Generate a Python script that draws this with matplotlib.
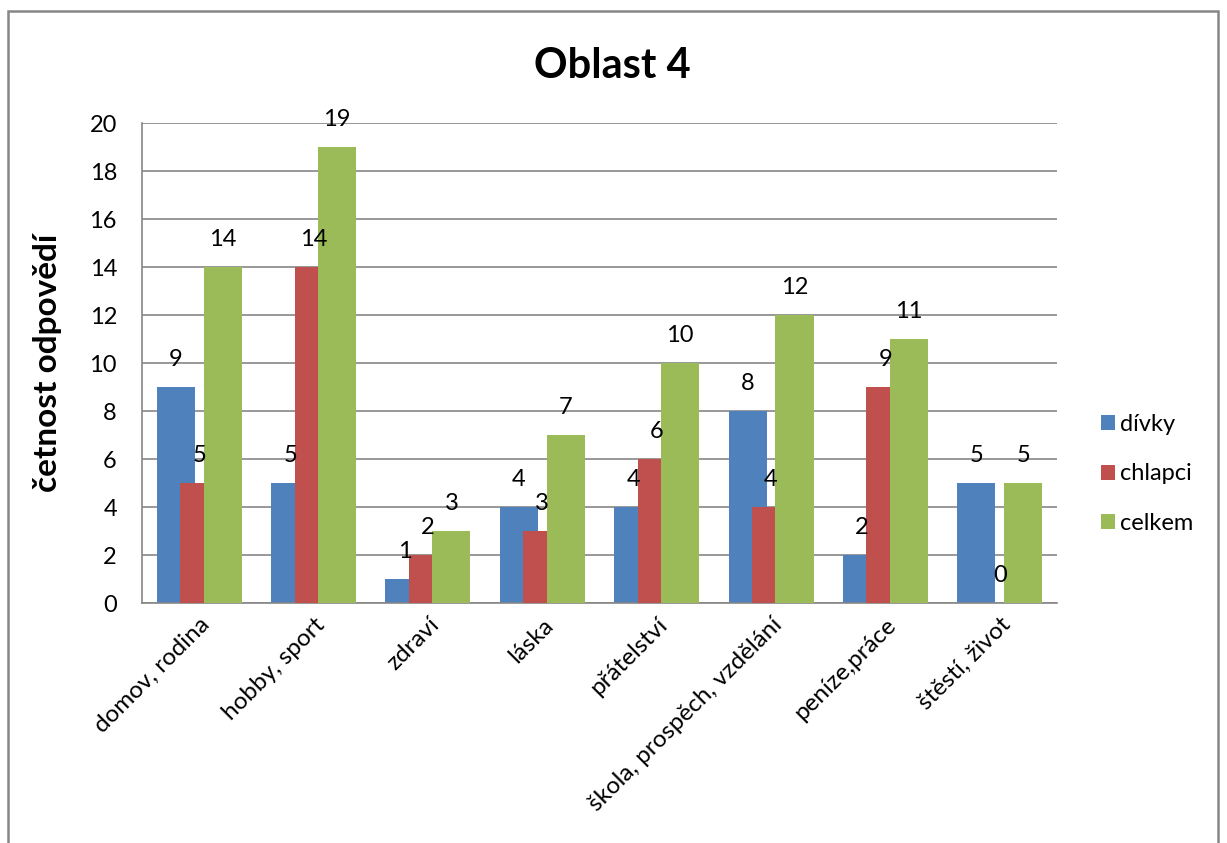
import matplotlib
matplotlib.use("Agg")
import matplotlib.pyplot as plt
import numpy as np
from matplotlib.patches import Rectangle

plt.rcParams['font.family'] = ['Lato', 'DejaVu Sans']

categories = ["domov, rodina", "hobby, sport", "zdraví", "láska", "přátelství",
              "škola, prospěch, vzdělání", "peníze,práce", "štěstí, život"]
divky = [9, 5, 1, 4, 4, 8, 2, 5]
chlapci = [5, 14, 2, 3, 6, 4, 9, 0]
celkem = [14, 19, 3, 7, 10, 12, 11, 5]
series_names = ["dívky", "chlapci", "celkem"]
colors = ["#4F81BD", "#C0504D", "#9BBB59"]
yticks = list(range(0, 21, 2))

W, H = 1227, 843
fig = plt.figure(figsize=(W / 100, H / 100), dpi=100)
ax = fig.add_axes([142 / W, 1 - 603 / H, (1057 - 142) / W, (603 - 123) / H])

x = np.arange(len(categories))
step = 0.205
width = 0.333
for i, (vals, name, c) in enumerate(zip([divky, chlapci, celkem], series_names, colors)):
    pos = x + (i - 1) * step
    ax.bar(pos, vals, width=width, color=c, label=name, zorder=2 + i)
    for p, v in zip(pos, vals):
        ax.annotate(str(v), (p, v), xytext=(0, 19.5), textcoords="offset points",
                    ha="center", va="center", fontsize=17, color="black", zorder=10)

ax.set_xlim(-0.5, len(categories) - 0.5)
ax.set_ylim(0, 20)
ax.set_yticks(yticks)
ax.yaxis.grid(True, color="#868686", linewidth=1.2, zorder=0)
ax.set_axisbelow(True)
for s in ["top", "right"]:
    ax.spines[s].set_visible(False)
ax.spines["left"].set_color("#868686")
ax.spines["bottom"].set_color("#868686")
ax.spines["left"].set_linewidth(1.2)
ax.spines["bottom"].set_linewidth(1.2)
ax.tick_params(axis="y", length=0, labelsize=17, pad=18)
ax.tick_params(axis="x", length=0, labelsize=17.5, pad=8)
ax.set_xticks(x)
ax.set_xticklabels(categories, rotation=45, ha="right", rotation_mode="anchor")

ax.set_ylabel("četnost odpovědí", fontsize=24, fontweight="bold", labelpad=20)
fig.text(612 / W, 1 - 66 / H, "Oblast 4", ha="center", va="center",
         fontsize=30, fontweight="bold")

ax.legend(loc="center left", bbox_to_anchor=(1080 / W, 1 - 474 / H),
          bbox_transform=fig.transFigure, frameon=False, fontsize=17,
          handlelength=0.6, handleheight=0.6, handletextpad=0.2,
          labelspacing=1.2)

fig.patches.append(Rectangle((8 / W, -0.05), (1218 - 8) / W, 1 - 11 / H + 0.05,
                             transform=fig.transFigure, fill=False,
                             edgecolor="#868686", linewidth=1.8))

fig.savefig("out.png", dpi=100)
